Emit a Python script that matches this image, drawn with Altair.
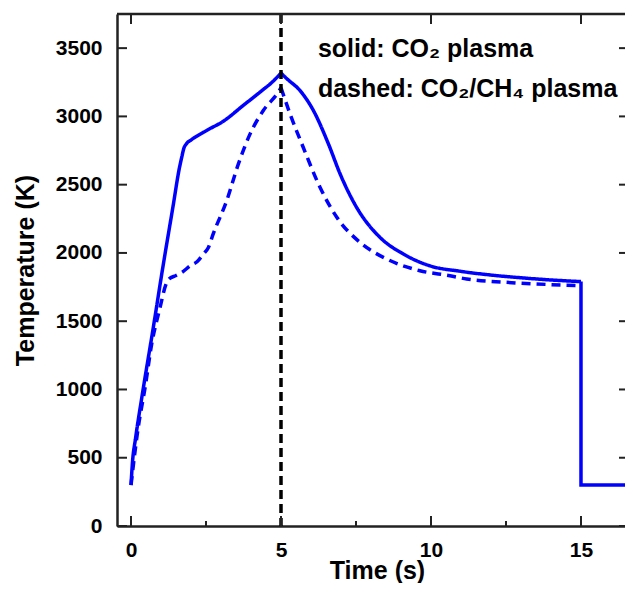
import altair as alt
import pandas as pd

# ---- data ----
# CO2 plasma (solid): heating part, cooling part, switch-off part
co2_rise_t = [0.0, 0.05, 0.15, 0.36, 0.74, 1.05, 1.40, 1.62, 1.69, 1.76, 1.85, 2.02, 2.52,
              3.08, 3.74, 4.30, 4.70, 5.00]
co2_rise_T = [300, 470, 640, 941, 1450, 1880, 2340, 2630, 2700, 2765, 2800, 2830, 2897,
              2965, 3080, 3178, 3250, 3317]
co2_fall_t = [5.00, 5.19, 5.63, 6.08, 6.58, 6.97, 7.52, 8.30, 9.08, 9.97, 11.0, 12.0,
              13.0, 14.0, 15.0]
co2_fall_T = [3317, 3277, 3190, 3043, 2799, 2579, 2334, 2114, 1992, 1905, 1865, 1838,
              1818, 1802, 1790]
co2_off_t = [15.0, 15.0, 17.0]
co2_off_T = [1790, 300, 300]

# CO2/CH4 plasma (dashed)
mix_rise_t = [0.0, 0.24, 0.47, 0.69, 0.97, 1.15, 1.25, 1.50, 1.69, 2.00, 2.20, 2.41, 2.58,
              2.74, 3.19, 3.58, 3.97, 4.41, 4.91, 5.00]
mix_rise_T = [300, 721, 1014, 1333, 1601, 1760, 1805, 1835, 1857, 1910, 1935, 1992, 2040,
              2139, 2383, 2652, 2872, 3043, 3178, 3210]
mix_fall_t = [5.00, 5.30, 5.74, 6.30, 6.86, 7.63, 8.52, 9.63, 10.63, 11.19, 12.5, 14.0, 15.0]
mix_fall_T = [3210, 3019, 2774, 2481, 2261, 2078, 1956, 1870, 1833, 1809, 1785, 1768, 1760]

series_names = ["CO2 plasma", "CO2/CH4 plasma"]
marker_time = 5

notes = ["solid: CO\u2082 plasma", "dashed: CO\u2082/CH\u2084 plasma"]
note_time = [6.23, 6.23]
note_temp = [3435, 3142]

x_major = [0, 5, 10, 15]
x_minor = [2.5, 7.5, 12.5]
y_major = [0, 500, 1000, 1500, 2000, 2500, 3000, 3500]

x_domain = [-0.467, 16.467]
y_domain = [0, 3750]

W, H = 508, 512
FONT = "Liberation Sans"


def seg(ts, Ts, series, name):
    return pd.DataFrame({"t": ts, "T": Ts, "s": series, "seg": name,
                         "o": list(range(len(ts)))})


smooth = pd.concat([
    seg(co2_rise_t, co2_rise_T, series_names[0], "a"),
    seg(co2_fall_t, co2_fall_T, series_names[0], "b"),
    seg(mix_rise_t, mix_rise_T, series_names[1], "c"),
    seg(mix_fall_t, mix_fall_T, series_names[1], "d"),
])
step = seg(co2_off_t, co2_off_T, series_names[0], "e")

xs = alt.Scale(domain=x_domain, nice=False, zero=False)
ys = alt.Scale(domain=y_domain, nice=False, zero=False)

x_axis = alt.Axis(values=x_major, format="d", ticks=False, grid=False, domainColor="#222",
                  domainWidth=2.5, labelFont=FONT, labelFontWeight="bold",
                  labelFontSize=21, labelColor="black", labelPadding=13,
                  labelFlush=False, titleFont=FONT,
                  titleFontWeight="bold", titleFontSize=25, titleColor="black",
                  titleX=260, titleY=52,
                  titleBaseline="alphabetic", titleAlign="center")
y_axis = alt.Axis(values=y_major, format="d", ticks=False, grid=False, domainColor="#222",
                  domainWidth=2.5, labelFont=FONT, labelFontWeight="bold",
                  labelFontSize=21, labelColor="black", labelPadding=15,
                  labelFlush=False, titleFont=FONT,
                  titleFontWeight="bold", titleFontSize=25, titleColor="black",
                  titleX=-92, titleY=H / 2, titleBaseline="middle",
                  titleAlign="center")


def X():
    return alt.X("t:Q", scale=xs, axis=x_axis, title="Time (s)")


def Y():
    return alt.Y("T:Q", scale=ys, axis=y_axis, title="Temperature (K)")


dash = alt.StrokeDash("s:N", scale=alt.Scale(domain=series_names, range=[[1, 0], [9, 6]]),
                      legend=None)

curves = alt.Chart(smooth).mark_line(strokeWidth=3.5, color="#0000ff",
                                     interpolate="monotone", clip=True).encode(
    x=X(), y=Y(), detail="seg:N", order="o:Q", strokeDash=dash)

off = alt.Chart(step).mark_line(strokeWidth=3.5, color="#0000ff", clip=True).encode(
    x=X(), y=Y(), order="o:Q")

vline = alt.Chart(pd.DataFrame({"t": [marker_time]})).mark_rule(
    color="black", strokeWidth=3.5, strokeDash=[9, 5]).encode(
    x=X(), y=alt.value(0), y2=alt.value(H))

top_border = alt.Chart(pd.DataFrame({"a": [0]})).mark_rule(
    color="#222", strokeWidth=2.5).encode(
    x=alt.value(0), x2=alt.value(W), y=alt.value(0))

df_xmaj = pd.DataFrame({"t": x_major})
df_xmin = pd.DataFrame({"t": x_minor})
df_ymaj = pd.DataFrame({"T": y_major})
tick_style = dict(color="#222", strokeWidth=2)

bot_major = alt.Chart(df_xmaj).mark_rule(**tick_style).encode(
    x=X(), y=alt.value(H), y2=alt.value(H - 10))
bot_minor = alt.Chart(df_xmin).mark_rule(**tick_style).encode(
    x=X(), y=alt.value(H), y2=alt.value(H - 5))
top_major = alt.Chart(df_xmaj).mark_rule(**tick_style).encode(
    x=X(), y=alt.value(0), y2=alt.value(10))
left_major = alt.Chart(df_ymaj).mark_rule(**tick_style).encode(
    y=Y(), x=alt.value(0), x2=alt.value(10))
right_major = alt.Chart(df_ymaj).mark_rule(**tick_style).encode(
    y=Y(), x=alt.value(W - 6), x2=alt.value(W))

texts = alt.Chart(pd.DataFrame({"t": note_time, "T": note_temp, "txt": notes})).mark_text(
    align="left", baseline="alphabetic", font=FONT, fontWeight="bold",
    fontSize=25, color="black").encode(
    x=X(), y=Y(), text="txt:N")

chart = alt.layer(
    curves, off, vline, texts, top_border, bot_major, bot_minor, top_major,
    left_major, right_major
).properties(
    width=W, height=H,
    autosize=alt.AutoSizeParams(type="none"),
    padding={"left": 109, "top": 6, "right": 0, "bottom": 57},
).configure_view(stroke=None)

chart.save("out.html", embed_options={"renderer": "svg", "actions": False})
